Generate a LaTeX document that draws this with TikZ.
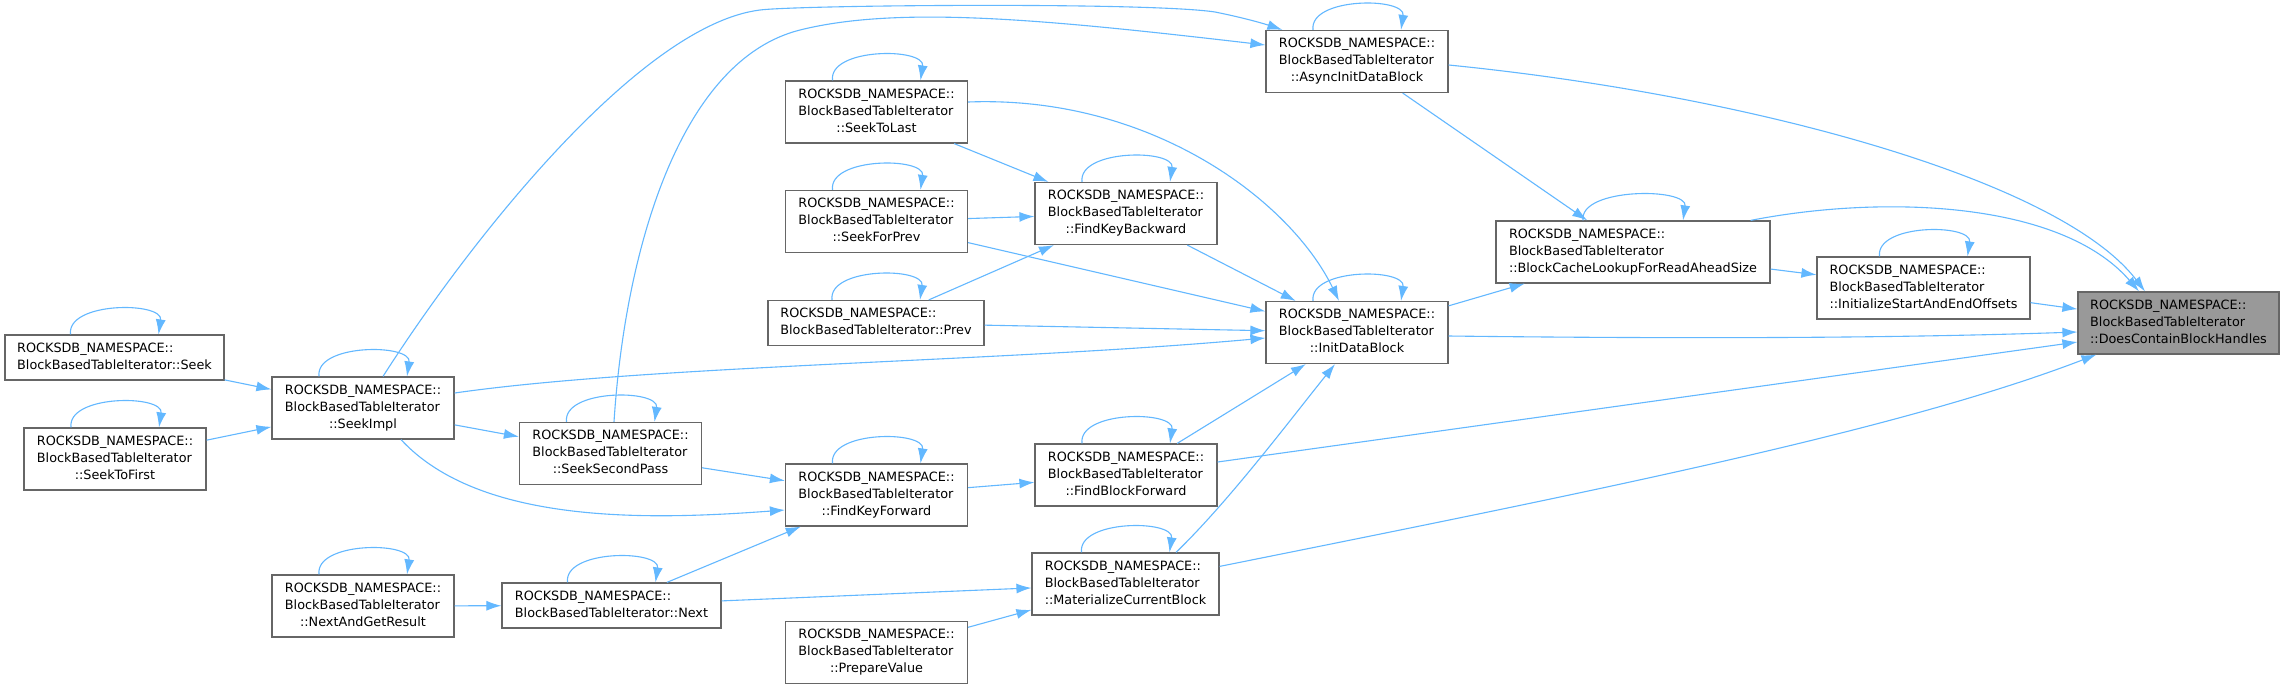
\documentclass[tikz,border=0pt]{standalone}
\usepackage{fontspec}
\setmainfont{DejaVu Sans}
\usetikzlibrary{arrows.meta}
\definecolor{edgec}{HTML}{63B8FF}
\definecolor{boxc}{HTML}{666666}
\definecolor{hlc}{HTML}{999999}
\newcommand{\lblthree}[3]{\begin{tabular}{@{}l@{}}#1\\#2\\\multicolumn{1}{@{}c@{}}{#3}\end{tabular}}
\newcommand{\lbltwo}[2]{\begin{tabular}{@{}l@{}}#1\\\multicolumn{1}{@{}c@{}}{#2}\end{tabular}}
\newcommand{\rns}{ROCKSDB\_NAMESPACE::}
\newcommand{\bbti}{BlockBasedTableIterator}
\newcommand{\selfloop}[2][44]{\draw[conn] ([xshift=-#1pt]#2.north) .. controls +(-4,-33) and +(5,-33) .. ([xshift=#1pt]#2.north);}
\begin{document}
\begin{tikzpicture}[x=1pt,y=-1pt,
  fnode/.style={draw=boxc, line width=1.2pt, fill=white, inner sep=0pt,
    font=\fontsize{12.8}{17}\selectfont, minimum height=62pt, minimum width=182pt},
  twoline/.style={minimum height=45pt},
  conn/.style={draw=edgec, line width=1.1pt, -{Latex[length=15pt,width=10pt]}}]
\fill[white] (0,0) rectangle (2285,689);
\useasboundingbox (0,0) rectangle (2285,689);

\node[fnode,twoline,minimum width=219pt] (seek) at (114.5,357.5) {\lbltwo{\rns}{\bbti::Seek}};
\node[fnode] (seekfirst) at (115,459) {\lblthree{\rns}{\bbti}{::SeekToFirst}};
\node[fnode] (seekimpl) at (363,408) {\lblthree{\rns}{\bbti}{::SeekImpl}};
\node[fnode] (nextget) at (363,606) {\lblthree{\rns}{\bbti}{::NextAndGetResult}};
\node[fnode] (seeksecond) at (610.5,453.5) {\lblthree{\rns}{\bbti}{::SeekSecondPass}};
\node[fnode,twoline,minimum width=219pt] (next) at (611.5,605.5) {\lbltwo{\rns}{\bbti::Next}};
\node[fnode] (seeklast) at (876.5,112) {\lblthree{\rns}{\bbti}{::SeekToLast}};
\node[fnode] (seekprev) at (876.5,221.5) {\lblthree{\rns}{\bbti}{::SeekForPrev}};
\node[fnode,twoline,minimum width=216pt] (prev) at (876,323) {\lbltwo{\rns}{\bbti::Prev}};
\node[fnode] (findkeyfwd) at (876.5,495) {\lblthree{\rns}{\bbti}{::FindKeyForward}};
\node[fnode] (prepare) at (876.5,652.5) {\lblthree{\rns}{\bbti}{::PrepareValue}};
\node[fnode] (findkeybwd) at (1126,213.5) {\lblthree{\rns}{\bbti}{::FindKeyBackward}};
\node[fnode] (findblockfwd) at (1126,475) {\lblthree{\rns}{\bbti}{::FindBlockForward}};
\node[fnode,minimum width=187pt] (materialize) at (1125.5,584) {\lblthree{\rns}{\bbti}{::MaterializeCurrentBlock}};
\node[fnode] (asyncinit) at (1357,61.5) {\lblthree{\rns}{\bbti}{::AsyncInitDataBlock}};
\node[fnode] (initdata) at (1357,332.5) {\lblthree{\rns}{\bbti}{::InitDataBlock}};
\node[fnode,minimum width=274pt] (bclookup) at (1633,252) {\lblthree{\rns}{\bbti}{::BlockCacheLookupForReadAheadSize}};
\node[fnode,minimum width=213pt] (initstart) at (1923.5,288) {\lblthree{\rns}{\bbti}{::InitializeStartAndEndOffsets}};
\node[fnode,minimum width=201pt,fill=hlc] (doescontain) at (2178.5,323) {\lblthree{\rns}{\bbti}{::DoesContainBlockHandles}};

% self loops
\selfloop{seek}
\selfloop{seekfirst}
\selfloop{seekimpl}
\selfloop{nextget}
\selfloop{seeksecond}
\selfloop{next}
\selfloop{seeklast}
\selfloop{seekprev}
\selfloop{prev}
\selfloop{findkeyfwd}
\selfloop{findkeybwd}
\selfloop{findblockfwd}
\selfloop{materialize}
\selfloop{asyncinit}
\selfloop{initdata}
\selfloop[50]{bclookup}
\selfloop{initstart}

% straight edges
\draw[conn] (seek) -- (seekimpl);
\draw[conn] (seekfirst) -- (seekimpl);
\draw[conn] (seekimpl) -- (seeksecond);
\draw[conn] (nextget) -- (next);
\draw[conn] (seeksecond) -- (findkeyfwd);
\draw[conn] (next) -- (findkeyfwd);
\draw[conn] (next) -- (materialize);
\draw[conn] (seeklast) -- (findkeybwd);
\draw[conn] (seekprev) -- (findkeybwd);
\draw[conn] (prev) -- (findkeybwd);
\draw[conn] (seekprev) -- (initdata);
\draw[conn] (prev) -- (initdata);
\draw[conn] (findkeybwd) -- (initdata);
\draw[conn] (findkeyfwd) -- (findblockfwd);
\draw[conn] (findblockfwd) -- (initdata);
\draw[conn] (prepare) -- (materialize);
\draw[conn] (asyncinit) -- (bclookup);
\draw[conn] (initdata) -- (bclookup);
\draw[conn] (bclookup) -- (initstart);
\draw[conn] (initstart) -- (doescontain);
\draw[conn] ([yshift=13pt]findblockfwd.east) -- ([yshift=-19pt]doescontain.west);

% curved edges
\draw[conn] ([xshift=20pt]seekimpl.north) .. controls (470,240) and (640,25) .. (760,10)
  .. controls (800,5) and (1150,2) .. (1215,12)
  .. controls (1245,18) and (1265,24) .. ([xshift=17pt]asyncinit.north west);
\draw[conn] ([xshift=3.5pt]seeksecond.north) .. controls (625,250) and (680,60) .. (800,30)
  .. controls (900,5) and (1050,20) .. ([yshift=16.5pt]asyncinit.west);
\draw[conn] ([xshift=38pt]seekimpl.south) .. controls (480,525) and (650,520) .. ([yshift=-15pt]findkeyfwd.west);
\draw[conn] ([yshift=15pt]seekimpl.east) .. controls (650,365) and (1000,362) .. ([yshift=-5.5pt]initdata.west);
\draw[conn] ([yshift=10pt]seeklast.east) .. controls (1150,95) and (1290,200) .. ([xshift=-18pt]initdata.north);
\draw[conn] ([xshift=50.5pt]materialize.north) .. controls (1230,500) and (1290,420) .. ([xshift=-22pt]initdata.south);
\draw[conn] ([yshift=-3.5pt]asyncinit.east) .. controls (1750,95) and (2060,180) .. ([xshift=-33.5pt]doescontain.north);
\draw[conn] ([xshift=-20pt]bclookup.north east) .. controls (1880,195) and (2060,200) .. ([xshift=-39.5pt]doescontain.north);
\draw[conn] ([yshift=-3.5pt]initdata.east) .. controls (1700,339) and (1900,338) .. ([yshift=-9pt]doescontain.west);
\draw[conn] ([yshift=-14pt]materialize.north east) .. controls (1600,490) and (1900,430) .. ([xshift=19pt]doescontain.south west);
\end{tikzpicture}
\end{document}
